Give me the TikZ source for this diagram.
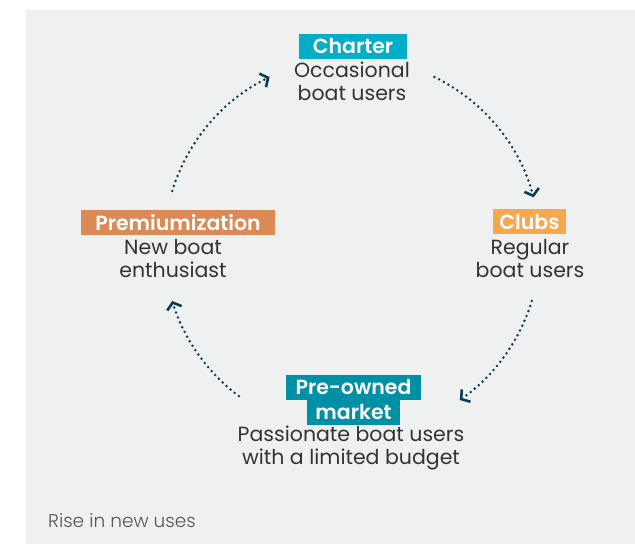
\documentclass[tikz,border=0pt]{standalone}
\usepackage{fontspec}
\setmainfont{Poppins}[BoldFont={Poppins SemiBold}]
\newfontfamily\lightf{Poppins Light}
\usetikzlibrary{arrows.meta,calc}
\definecolor{bg}{HTML}{EFF0F0}
\definecolor{charterc}{HTML}{00AEC7}
\definecolor{clubsc}{HTML}{F9A74C}
\definecolor{premc}{HTML}{DB8A55}
\definecolor{prec}{HTML}{0090A6}
\definecolor{txt}{HTML}{333333}
\definecolor{arr}{HTML}{0E3A5A}
\definecolor{note}{HTML}{555555}
\begin{document}
\begin{tikzpicture}[x=1pt,y=1pt,
  lab/.style={fill=#1, text=white, font=\bfseries\fontsize{20.5}{22}\selectfont, inner sep=0pt, minimum height=25pt, anchor=center},
  desc/.style={text=txt, font=\fontsize{20.5}{23}\selectfont, align=center, inner sep=0pt},
  flow/.style={draw=arr, line width=2.8pt, line cap=round, dash pattern=on 0pt off 5.3pt,
    -{Straight Barb[length=6pt,width=15pt,line width=2.6pt]}}
]
\useasboundingbox (0,0) rectangle (635,544);
\fill[bg] (26,0) rectangle (635,534);

\node[lab=charterc, minimum width=108pt] (charter) at (353,497.5) {Charter};
\node[desc] (charterd) at (352,462.5) {Occasional\\boat users};

\node[lab=clubsc, minimum width=73pt] (clubs) at (529.5,322) {Clubs};
\node[desc] (clubsd) at (530,285) {Regular\\boat users};

\node[lab=premc, minimum width=194pt] (prem) at (178,321.5) {Premiumization};
\node[desc] (premd) at (173,285.5) {New boat\\enthusiast};

\node[lab=prec, minimum width=135pt] (pre1) at (353.5,156.5) {Pre-owned};
\node[lab=prec, minimum width=93pt] (pre2) at (353.5,131.5) {market};
\node[desc] (pred) at (351,96.5) {Passionate boat users\\with a limited budget};

\node[anchor=west, text=note, font=\lightf\fontsize{18.5}{20}\selectfont, inner sep=0pt] (rise) at (48,23) {Rise in new uses};

\coordinate (O) at (352,298);
\draw[flow] ($(O)+(64:188)$) arc[start angle=64, end angle=15, radius=188];
\draw[flow] ($(O)+(-17:188)$) arc[start angle=-17, end angle=-55, radius=188];
\draw[flow] ($(O)+(-127:188)$) arc[start angle=-127, end angle=-163, radius=188];
\draw[flow] ($(O)+(163:188)$) arc[start angle=163, end angle=116, radius=188];
\end{tikzpicture}
\end{document}
